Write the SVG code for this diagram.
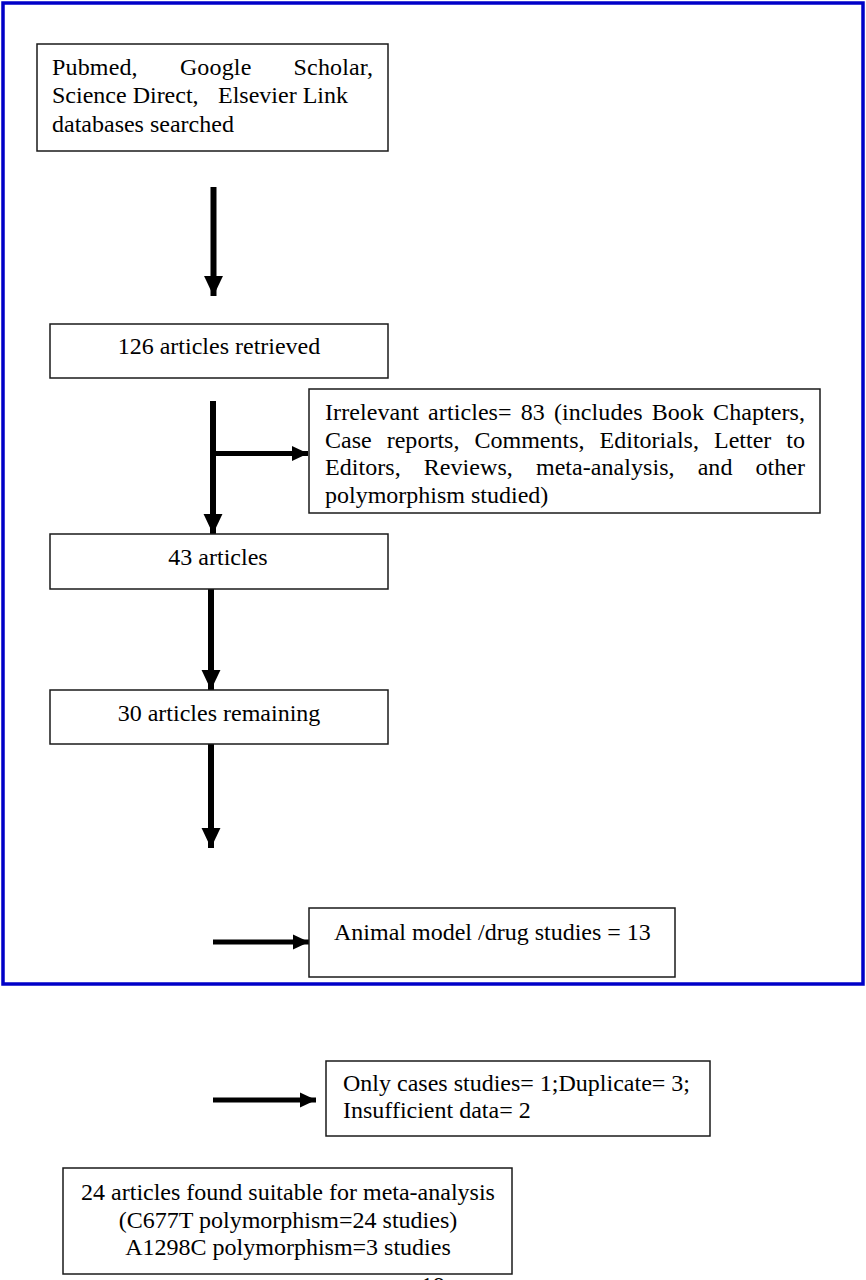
<svg xmlns="http://www.w3.org/2000/svg" width="866" height="1280" viewBox="0 0 866 1280">
<style>
.box{fill:#fff;stroke:#1a1a1a;stroke-width:1.5}
.t{font-family:"Liberation Serif","Times New Roman",serif;font-size:24px;fill:#000}
.c{text-anchor:middle}
.ln{stroke:#000;stroke-width:6;fill:none}
.lh{stroke:#000;stroke-width:5;fill:none}
</style>
<defs>
<marker id="ah" markerUnits="userSpaceOnUse" markerWidth="20" markerHeight="20" viewBox="0 0 18 17" refX="18" refY="8.5" orient="auto">
<path d="M0,0 L18,8.5 L0,17 Z" fill="#000"/>
</marker>
<marker id="ahs" markerUnits="userSpaceOnUse" markerWidth="16" markerHeight="16" viewBox="0 0 15 14" refX="15" refY="7" orient="auto">
<path d="M0,0 L15,7 L0,14 Z" fill="#000"/>
</marker>
</defs>
<rect width="866" height="1280" fill="#fff"/>
<rect id="frame" x="3" y="3" width="860" height="981" fill="none" stroke="#0000c8" stroke-width="3.5"/>
<g id="connectors">
<line class="ln" x1="213.5" y1="187" x2="213.5" y2="296" marker-end="url(#ah)"/>
<line class="ln" x1="213" y1="401" x2="213" y2="534" marker-end="url(#ah)"/>
<line class="lh" x1="213" y1="453.5" x2="308" y2="453.5" marker-end="url(#ahs)"/>
<line class="ln" x1="211" y1="588" x2="211" y2="690" marker-end="url(#ah)"/>
<line class="ln" x1="211" y1="744" x2="211" y2="848" marker-end="url(#ah)"/>
<line class="lh" x1="213" y1="942" x2="309" y2="942" marker-end="url(#ahs)"/>
<line class="lh" x1="213" y1="1100" x2="316" y2="1100" marker-end="url(#ahs)"/>
</g>
<g id="n1">
<rect class="box" x="37" y="44" width="351" height="107"/>
<text class="t" x="52" y="75" textLength="321" lengthAdjust="spacing" word-spacing="36">Pubmed, Google Scholar,</text>
<text class="t" y="103.3"><tspan x="52">Science Direct,</tspan><tspan x="218">Elsevier Link</tspan></text>
<text class="t" x="52" y="131.5">databases searched</text>
</g>
<g id="n2">
<rect class="box" x="50" y="324" width="338" height="54"/>
<text class="t c" x="219" y="354">126 articles retrieved</text>
</g>
<g id="n3">
<rect class="box" x="309" y="389" width="511" height="124"/>
<text class="t" x="325" y="420" textLength="480" lengthAdjust="spacing" word-spacing="3">Irrelevant articles= 83 (includes Book Chapters,</text>
<text class="t" x="325" y="447.7" textLength="480" lengthAdjust="spacing" word-spacing="9">Case reports, Comments, Editorials, Letter to</text>
<text class="t" x="325" y="475.4" textLength="480" lengthAdjust="spacing" word-spacing="17">Editors, Reviews, meta-analysis, and other</text>
<text class="t" x="325" y="503">polymorphism studied)</text>
</g>
<g id="n4">
<rect class="box" x="50" y="534" width="338" height="55"/>
<text class="t c" x="218" y="565">43 articles</text>
</g>
<g id="n5">
<rect class="box" x="50" y="690" width="338" height="54"/>
<text class="t c" x="219" y="721">30 articles remaining</text>
</g>
<g id="n6">
<rect class="box" x="309" y="908" width="366" height="69"/>
<text class="t" x="334" y="940">Animal model /drug studies = 13</text>
</g>
<g id="n7">
<rect class="box" x="326" y="1061" width="384" height="75"/>
<text class="t" x="343" y="1091">Only cases studies= 1;Duplicate= 3;</text>
<text class="t" x="343" y="1118">Insufficient data= 2</text>
</g>
<g id="n8">
<rect class="box" x="63" y="1168" width="449" height="106"/>
<text class="t c" x="288" y="1200">24 articles found suitable for meta-analysis</text>
<text class="t c" x="288" y="1227.5">(C677T polymorphism=24 studies)</text>
<text class="t c" x="288" y="1255">A1298C polymorphism=3 studies</text>
</g>
<text class="t c" x="433" y="1293">19</text>
</svg>
